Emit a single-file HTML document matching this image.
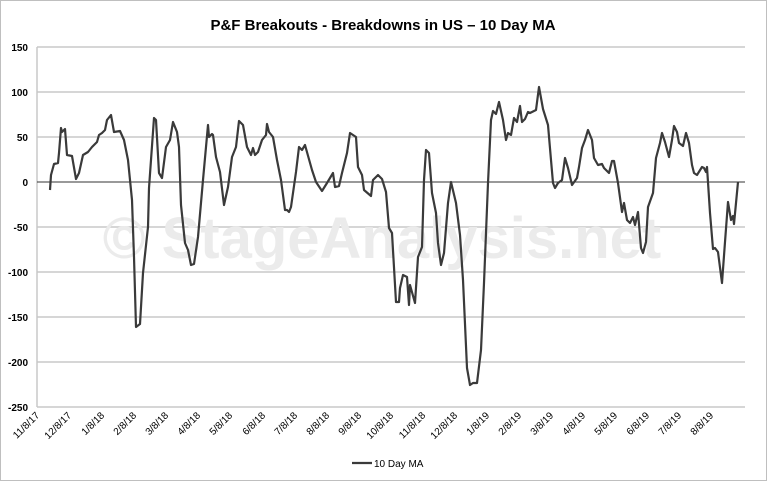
<!DOCTYPE html>
<html><head><meta charset="utf-8"><style>
html,body{margin:0;padding:0;background:#fff;}
svg{display:block;font-family:"Liberation Sans",Arial,sans-serif;}
</style></head><body>
<svg width="767" height="481" viewBox="0 0 767 481">
<rect x="0.5" y="0.5" width="766" height="480" fill="#fff" stroke="#bfbfbf"/>
<text x="383" y="30" text-anchor="middle" font-size="15" font-weight="bold" fill="#000">P&amp;F Breakouts - Breakdowns in US – 10 Day MA</text>
<g stroke="#c8c8c8" stroke-width="1.5">
<line x1="37" x2="745" y1="47" y2="47"/><line x1="37" x2="745" y1="92" y2="92"/>
<line x1="37" x2="745" y1="137" y2="137"/><line x1="37" x2="745" y1="227" y2="227"/>
<line x1="37" x2="745" y1="272" y2="272"/><line x1="37" x2="745" y1="317" y2="317"/>
<line x1="37" x2="745" y1="362" y2="362"/><line x1="37" x2="745" y1="407" y2="407"/>
<line x1="37" x2="37" y1="47" y2="407"/>
</g>
<text x="382" y="258" text-anchor="middle" font-size="58" font-weight="bold" fill="#ebebeb">© StageAnalysis.net</text>
<line x1="37" x2="745" y1="182" y2="182" stroke="#333" stroke-width="1"/>
<g font-size="10" font-weight="bold" fill="#000" text-anchor="end">
<text x="28" y="51">150</text><text x="28" y="96">100</text><text x="28" y="141">50</text>
<text x="28" y="186">0</text><text x="28" y="231">-50</text><text x="28" y="276">-100</text>
<text x="28" y="321">-150</text><text x="28" y="366">-200</text><text x="28" y="411">-250</text>
</g>
<g font-size="10" fill="#000" text-anchor="end">
<text transform="translate(40,416) rotate(-45)">11/8/17</text>
<text transform="translate(72,416) rotate(-45)">12/8/17</text>
<text transform="translate(105,416) rotate(-45)">1/8/18</text>
<text transform="translate(137,416) rotate(-45)">2/8/18</text>
<text transform="translate(169,416) rotate(-45)">3/8/18</text>
<text transform="translate(201,416) rotate(-45)">4/8/18</text>
<text transform="translate(233,416) rotate(-45)">5/8/18</text>
<text transform="translate(266,416) rotate(-45)">6/8/18</text>
<text transform="translate(298,416) rotate(-45)">7/8/18</text>
<text transform="translate(330,416) rotate(-45)">8/8/18</text>
<text transform="translate(362,416) rotate(-45)">9/8/18</text>
<text transform="translate(394,416) rotate(-45)">10/8/18</text>
<text transform="translate(426,416) rotate(-45)">11/8/18</text>
<text transform="translate(458,416) rotate(-45)">12/8/18</text>
<text transform="translate(490,416) rotate(-45)">1/8/19</text>
<text transform="translate(522,416) rotate(-45)">2/8/19</text>
<text transform="translate(554,416) rotate(-45)">3/8/19</text>
<text transform="translate(586,416) rotate(-45)">4/8/19</text>
<text transform="translate(618,416) rotate(-45)">5/8/19</text>
<text transform="translate(650,416) rotate(-45)">6/8/19</text>
<text transform="translate(682,416) rotate(-45)">7/8/19</text>
<text transform="translate(714,416) rotate(-45)">8/8/19</text>
</g>
<polyline fill="none" stroke="#3a3a3a" stroke-width="2.2" stroke-linejoin="round" points="
50,190 51,175 54,164 58,163 59,153 61,128 62,132 65,129 67,155 72,156 76,179 79,173 83,155 88,152 92,147 97,142 99,135 102,133 105,130 107,120 111,115 114,132 120,131 124,140 128,160 132,200 134,257 136,327 140,324 143,273 148,227 149,188 154,118 156,120 159,173 162,178 166,147 170,140 173,122 177,132 179,147 181,205 185,243 188,250 191,265 194,264 198,237 203,180 208,125 209,137 212,134 213,135 216,157 220,172 224,205 228,187 232,157 236,147 239,121 243,125 247,147 251,155 253,148 255,155 258,152 262,140 266,135 267,124 269,132 273,137 277,160 281,180 285,210 287,210 289,212 291,207 293,193 296,172 299,147 302,150 305,145 312,170 316,182 322,191 327,183 333,173 335,187 339,186 342,173 347,153 350,133 356,137 358,167 362,175 364,190 371,196 373,180 378,175 382,179 386,192 389,228 392,233 396,302 399,302 400,288 403,275 407,277 409,305 410,285 415,303 418,257 422,247 424,180 426,150 429,153 432,193 436,213 438,243 441,265 444,253 448,203 451,182 456,203 460,235 463,280 467,368 470,385 473,383 477,383 481,350 484,283 488,183 491,120 493,111 496,114 499,102 503,120 506,140 508,133 511,135 514,118 517,122 520,106 522,122 525,119 528,112 530,113 536,110 539,87 543,109 548,125 551,160 553,183 555,188 558,183 562,180 565,158 568,168 572,185 577,178 579,167 582,148 585,140 588,130 592,140 594,158 598,165 602,164 604,168 609,173 612,161 614,161 618,183 622,212 624,203 627,220 630,223 633,217 635,225 638,212 641,248 643,253 646,242 648,207 653,193 656,158 660,143 662,133 665,142 669,157 672,140 674,126 677,132 679,143 683,146 686,133 689,143 692,165 694,173 697,175 702,167 704,168 706,172 707,167 710,213 713,249 715,248 718,252 722,283 725,242 728,202 731,220 733,216 734,224 738,182"/>
<line x1="352" x2="372" y1="463" y2="463" stroke="#3a3a3a" stroke-width="2.2"/>
<text x="374" y="467" font-size="10" fill="#000">10 Day MA</text>
</svg>
</body></html>
